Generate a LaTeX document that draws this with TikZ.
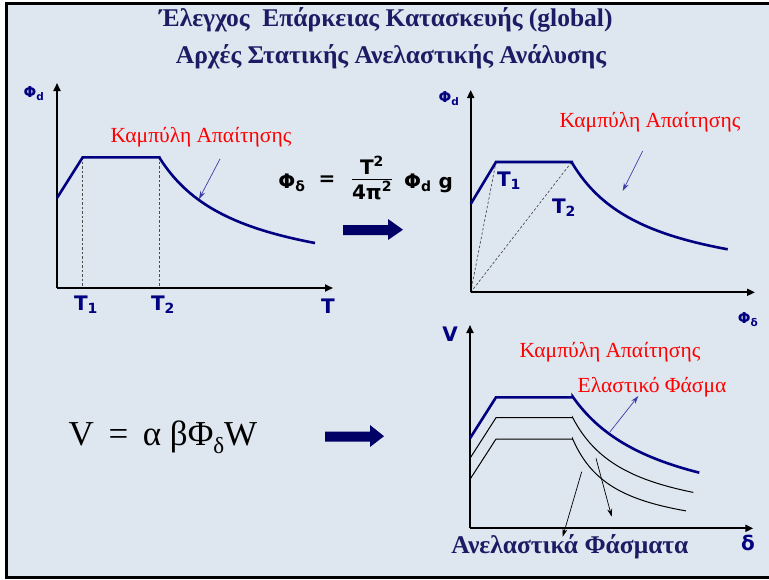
\documentclass[tikz,border=0pt]{standalone}
\usepackage{fontspec}
\setmainfont{Liberation Serif}
\newfontfamily\lblfont{DejaVu Sans}
\usetikzlibrary{arrows.meta}
\definecolor{bg}{RGB}{222,230,239}
\definecolor{navy}{RGB}{0,0,128}
\definecolor{titlecol}{RGB}{28,28,100}
\definecolor{bigarrow}{RGB}{0,0,102}
\definecolor{thinblue}{RGB}{60,60,170}
\tikzset{
  axis/.style={line width=1.8pt, -{Triangle[length=8pt,width=7pt]}},
  curve/.style={navy, line width=2.6pt, line join=miter},
  thincurve/.style={black, line width=1pt},
  dashline/.style={black!70, dashed, dash pattern=on 2.5pt off 2pt, line width=0.7pt},
  thinarrow/.style={line width=0.7pt, -{Stealth[length=8pt,width=5pt]}},
  title/.style={font=\fontsize{25.5}{27}\selectfont\bfseries, text=titlecol, inner sep=0pt},
  axlbl/.style={font=\lblfont\fontsize{15}{16}\selectfont\bfseries, text=navy, inner sep=0pt},
  tlbl/.style={font=\lblfont\fontsize{20}{21}\selectfont\bfseries, text=navy, inner sep=0pt},
  redlbl/.style={font=\fontsize{21.5}{23}\selectfont, text=red, inner sep=0pt},
  eqlbl/.style={font=\lblfont\fontsize{20}{21}\selectfont\bfseries, text=black, inner sep=0pt},
}
\begin{document}
\begin{tikzpicture}[x=1pt,y=-1pt]
\useasboundingbox (0,0) rectangle (769,579);
\fill[white] (0,0) rectangle (769,579);
\draw[line width=3pt, fill=bg] (6.5,3) rectangle (785,577.3);

% title
\node[title] (t1) at (386,20) {Έλεγχος\ \ Επάρκειας Κατασκευής (global)};
\node[title] (t2) at (391,57) {Αρχές Στατικής Ανελαστικής Ανάλυσης};

% ---------- left plot ----------
\coordinate (O1) at (57,288);
\coordinate (Y1) at (57,83);
\coordinate (X1) at (333,288);
\coordinate (A1) at (57,198);
\coordinate (L1) at (82.7,157.3);
\coordinate (L2) at (159.3,157.3);
\draw[dashline] (L1) -- (L1 |- O1);
\draw[dashline] (L2) -- (L2 |- O1);
\draw[axis] (O1) -- (Y1);
\draw[axis] (O1) -- (X1);
\draw[curve] (A1) -- (L1) -- (L2) -- plot[domain=159.3:315,samples=50] (\x,{288-10690/(\x-77.4)});
\node[axlbl] (phid1) at (34,94) {Φ\textsubscript{d}};
\node[tlbl] (T1a) at (86,305) {T\textsubscript{1}};
\node[tlbl] (T2a) at (163,305) {T\textsubscript{2}};
\node[tlbl] (Ta) at (328,306) {T};
\node[redlbl] (red1) at (201,137) {Καμπύλη Απαίτησης};
\coordinate (ra1s) at (220,159);
\coordinate (ra1e) at (199,199);
\draw[thinarrow, thinblue] (ra1s) -- (ra1e);

% ---------- formula ----------
\node[eqlbl] (phidel) at (292,183) {Φ\textsubscript{δ}};
\node[eqlbl] (eq) at (327,181) {=};
\node[eqlbl] (frac) at (372,181) {\begin{tabular}{@{}c@{}}T\textsuperscript{2}\\[-2pt]\hline\rule{0pt}{20pt}4π\textsuperscript{2}\end{tabular}};
\node[eqlbl, anchor=west] (phidg) at (404,183) {Φ\textsubscript{d} g};

% big arrow 1
\fill[bigarrow] (343,225) -- (388,225) -- (388,219) -- (403,229.7) -- (388,240) -- (388,235) -- (343,235) -- cycle;

% ---------- right top plot ----------
\coordinate (O2) at (470.7,292.3);
\coordinate (Y2) at (470.7,90);
\coordinate (X2) at (755,292.3);
\coordinate (A2) at (470.7,204);
\coordinate (R1) at (496,162);
\coordinate (R2) at (571.7,162);
\draw[dashline] (O2) -- (R1);
\draw[dashline] (O2) -- (R2);
\draw[axis] (O2) -- (Y2);
\draw[axis] (O2) -- (X2);
\draw[curve] (A2) -- (R1) -- (R2) -- plot[domain=571.7:727.7,samples=50] (\x,{292.3-10023/(\x-494.6)});
\node[axlbl] (phid2) at (449,99) {Φ\textsubscript{d}};
\node[axlbl] (phidel2) at (748,320) {Φ\textsubscript{δ}};
\node[tlbl] (T1b) at (509,181) {T\textsubscript{1}};
\node[tlbl] (T2b) at (564,208) {T\textsubscript{2}};
\node[redlbl] (red2) at (650,122) {Καμπύλη Απαίτησης};
\coordinate (ra2s) at (642.7,151);
\coordinate (ra2e) at (622.7,191);
\draw[thinarrow, thinblue] (ra2s) -- (ra2e);

% ---------- V formula ----------
\node[font=\fontsize{35}{37}\selectfont, inner sep=0pt] (vform) at (163,437)
  {V\ \,=\ \,α\ βΦ\raisebox{-8pt}{\fontsize{23}{25}\selectfont δ}W};
\fill[bigarrow] (325,431.7) -- (370,431.7) -- (370,425) -- (384,436.2) -- (370,447) -- (370,441.7) -- (325,441.7) -- cycle;

% ---------- bottom plot ----------
\coordinate (O3) at (470,528.3);
\coordinate (Y3) at (470,325);
\coordinate (X3) at (753.3,528.3);
\draw[axis] (O3) -- (Y3);
\draw[axis] (O3) -- (X3);
\draw[thincurve] (470,479.3) -- (496,439) -- (572.7,439) -- plot[domain=572.7:686,samples=50] (\x,{528.3-(4290/(\x-529.5)-10)});
\draw[thincurve] (470,458.3) -- (496,417.7) -- (572.7,417.7) -- plot[domain=572.7:693.3,samples=50] (\x,{528.3-6415/(\x-514.7)});
\draw[curve] (470,438.3) -- (496,397.3) -- (572.7,397.3) -- plot[domain=572.7:699.3,samples=50] (\x,{528.3-12199/(\x-480)});
\node[tlbl] (Vl) at (450,334) {V};
\node[tlbl] (dl) at (748,543) {δ};
\node[redlbl] (red3) at (610,352) {Καμπύλη Απαίτησης};
\node[redlbl] (red4) at (652,387) {Ελαστικό Φάσμα};
\node[font=\fontsize{25.5}{27}\selectfont\bfseries, text=titlecol, inner sep=0pt] (inel) at (570,547) {Ανελαστικά Φάσματα};
\coordinate (ba1s) at (609.3,432.7);
\coordinate (ba1e) at (638.3,396);
\draw[thinarrow, thinblue] (ba1s) -- (ba1e);
\coordinate (ka1s) at (581.7,471.7);
\coordinate (ka1e) at (562.7,536.7);
\draw[thinarrow, black] (ka1s) -- (ka1e);
\coordinate (ka2s) at (596,458.3);
\coordinate (ka2e) at (611.7,516.7);
\draw[thinarrow, black] (ka2s) -- (ka2e);
\end{tikzpicture}
\end{document}
